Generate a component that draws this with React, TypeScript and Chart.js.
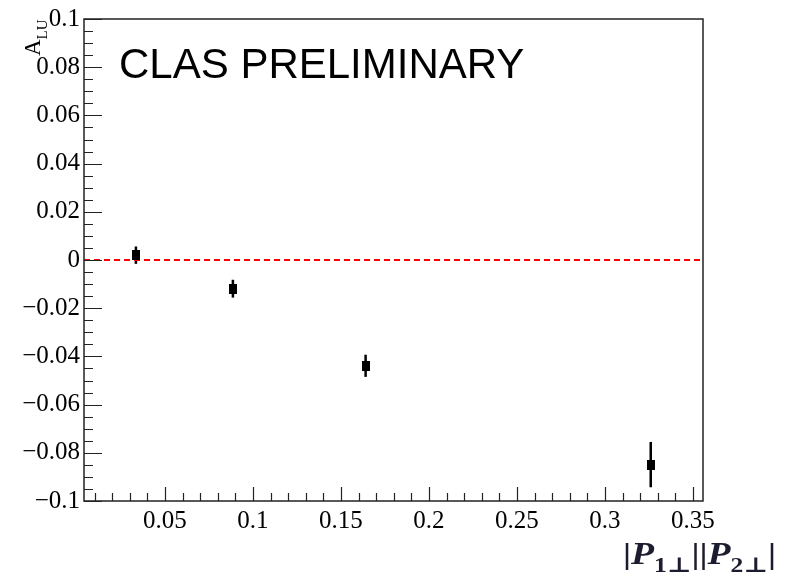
import React, { useEffect, useRef } from "react";
import { Chart, registerables } from "chart.js";
Chart.register(...registerables);

const xValues = [0.0335, 0.0886, 0.164, 0.326];
const yValues = [0.002, -0.0119, -0.0439, -0.0849];
const yErrors = [0.0036, 0.0037, 0.0046, 0.0094];
const xRange = [0.004, 0.3557];
const yRange = [-0.1, 0.1];
const xTickValues = [0.05, 0.1, 0.15, 0.2, 0.25, 0.3, 0.35];
const xTickLabels = ["0.05", "0.1", "0.15", "0.2", "0.25", "0.3", "0.35"];
const yTickValues = [-0.1, -0.08, -0.06, -0.04, -0.02, 0, 0.02, 0.04, 0.06, 0.08, 0.1];
const yTickLabels = ["\u22120.1", "\u22120.08", "\u22120.06", "\u22120.04", "\u22120.02", "0", "0.02", "0.04", "0.06", "0.08", "0.1"];
const xMinorStep = 0.01;
const yMinorStep = 0.005;
const referenceValue = 0;
const watermark = "CLAS PRELIMINARY";

const SERIF = "'Liberation Serif', 'Times New Roman', 'DejaVu Serif', serif";
const SANS = "'Liberation Sans', Arial, 'DejaVu Sans', sans-serif";

export default function App() {
  const ref = useRef<HTMLCanvasElement | null>(null);
  useEffect(() => {
    const canvas = ref.current;
    if (!canvas) return;

    const marker = document.createElement("canvas");
    marker.width = 8;
    marker.height = 10;
    const mctx = marker.getContext("2d")!;
    mctx.fillStyle = "#000";
    mctx.fillRect(0, 0, 8, 10);

    const decor = {
      id: "decor",
      beforeDatasetsDraw(chart: any) {
        const { ctx, scales } = chart;
        const xs = scales.x, ys = scales.y;
        ctx.save();
        ctx.strokeStyle = "#000";
        ctx.lineWidth = 2.5;
        for (let i = 0; i < xValues.length; i++) {
          const px = xs.getPixelForValue(xValues[i]);
          const y1 = ys.getPixelForValue(yValues[i] + yErrors[i]);
          const y2 = ys.getPixelForValue(yValues[i] - yErrors[i]);
          ctx.beginPath();
          ctx.moveTo(px, y1);
          ctx.lineTo(px, y2);
          ctx.stroke();
        }
        ctx.restore();
      },
      afterDraw(chart: any) {
        const { ctx, chartArea: a, scales } = chart;
        const xs = scales.x, ys = scales.y;
        ctx.save();
        ctx.strokeStyle = "#222";
        ctx.lineWidth = 1.5;
        ctx.strokeRect(a.left, a.top, a.right - a.left, a.bottom - a.top);
        ctx.lineWidth = 1.2;
        ctx.beginPath();
        const ny = Math.round((yRange[1] - yRange[0]) / yMinorStep);
        for (let k = 0; k <= ny; k++) {
          const v = yRange[0] + k * yMinorStep;
          const major = yTickValues.some((t) => Math.abs(t - v) < 1e-9);
          const py = Math.round(ys.getPixelForValue(v)) + 0.5;
          ctx.moveTo(a.left, py);
          ctx.lineTo(a.left + (major ? 18 : 9), py);
        }
        for (let v = xMinorStep; v <= xRange[1] + 1e-9; v += xMinorStep) {
          if (v < xRange[0]) continue;
          const major = xTickValues.some((t) => Math.abs(t - v) < 1e-9);
          const px = Math.round(xs.getPixelForValue(v)) + 0.5;
          ctx.moveTo(px, a.bottom);
          ctx.lineTo(px, a.bottom - (major ? 14 : 8));
        }
        ctx.stroke();

        // watermark
        ctx.fillStyle = "#000";
        ctx.font = `42px ${SANS}`;
        ctx.textBaseline = "alphabetic";
        ctx.textAlign = "left";
        ctx.fillText(watermark, 119, 78);

        // y title A_LU (rotated)
        ctx.save();
        ctx.translate(40, 56);
        ctx.rotate(-Math.PI / 2);
        ctx.font = `23px ${SERIF}`;
        ctx.fillText("A", 0, 0);
        const wA = ctx.measureText("A").width;
        ctx.font = `15px ${SERIF}`;
        ctx.fillText("LU", wA, 7);
        ctx.restore();

        // x title |P1⊥||P2⊥|
        const parts: [string, string, number][] = [
          ["|", `bold 30px ${SERIF}`, 0],
          ["P", `italic bold 31px ${SERIF}`, 0],
          ["1\u22a5", `bold 21px ${SERIF}`, 8],
          ["||", `bold 30px ${SERIF}`, 0],
          ["P", `italic bold 31px ${SERIF}`, 0],
          ["2\u22a5", `bold 21px ${SERIF}`, 8],
          ["|", `bold 30px ${SERIF}`, 0],
        ];
        let total = 0;
        for (const [t, f] of parts) {
          ctx.font = f;
          total += ctx.measureText(t).width;
        }
        const targetW = 153;
        const sx = targetW / total;
        ctx.save();
        ctx.translate(776 - targetW, 564);
        ctx.scale(sx, 1);
        ctx.fillStyle = "#1c1c30";
        let cx = 0;
        for (const [t, f, dy] of parts) {
          ctx.font = f;
          ctx.fillText(t, cx, dy);
          cx += ctx.measureText(t).width;
        }
        ctx.restore();
        ctx.restore();
      },
    };

    const chart = new Chart(canvas, {
      type: "scatter",
      data: {
        datasets: [
          {
            label: "A_LU",
            data: xValues.map((x, i) => ({ x, y: yValues[i] })),
            pointStyle: marker as any,
            pointRadius: 5,
            order: 0,
          },
          {
            label: "zero",
            data: [
              { x: xRange[0], y: referenceValue },
              { x: xRange[1], y: referenceValue },
            ],
            showLine: true,
            borderColor: "#ff0000",
            borderWidth: 2,
            borderDash: [6, 4],
            pointRadius: 0,
            order: 1,
          },
        ],
      },
      plugins: [decor],
      options: {
        animation: false,
        responsive: false,
        maintainAspectRatio: false,
        layout: { padding: { left: 0, top: 16, right: 94, bottom: 0 } },
        plugins: { legend: { display: false }, tooltip: { enabled: false } },
        scales: {
          x: {
            type: "linear",
            min: xRange[0],
            max: xRange[1],
            grid: { display: false, drawTicks: false },
            border: { display: false },
            afterBuildTicks: (s: any) => {
              s.ticks = xTickValues.map((v) => ({ value: v }));
            },
            afterFit: (s: any) => {
              s.height = 76;
            },
            ticks: {
              autoSkip: false,
              maxRotation: 0,
              padding: 5,
              color: "#000",
              font: { family: SERIF, size: 25 },
              callback: (_v: any, i: number) => xTickLabels[i],
            },
          },
          y: {
            type: "linear",
            min: yRange[0],
            max: yRange[1],
            grid: { display: false, drawTicks: false },
            border: { display: false },
            afterBuildTicks: (s: any) => {
              s.ticks = yTickValues.map((v) => ({ value: v }));
            },
            afterFit: (s: any) => {
              s.width = 84;
            },
            ticks: {
              autoSkip: false,
              padding: 4,
              color: "#000",
              font: { family: SERIF, size: 25 },
              callback: (_v: any, i: number) => yTickLabels[i],
            },
          },
        },
      },
    });
    return () => chart.destroy();
  }, []);

  return (
    <div style={{ position: "fixed", left: 0, top: 0, width: 797, height: 577, background: "#fff" }}>
      <canvas ref={ref} width={797} height={577} style={{ width: 797, height: 577, display: "block" }} />
    </div>
  );
}
